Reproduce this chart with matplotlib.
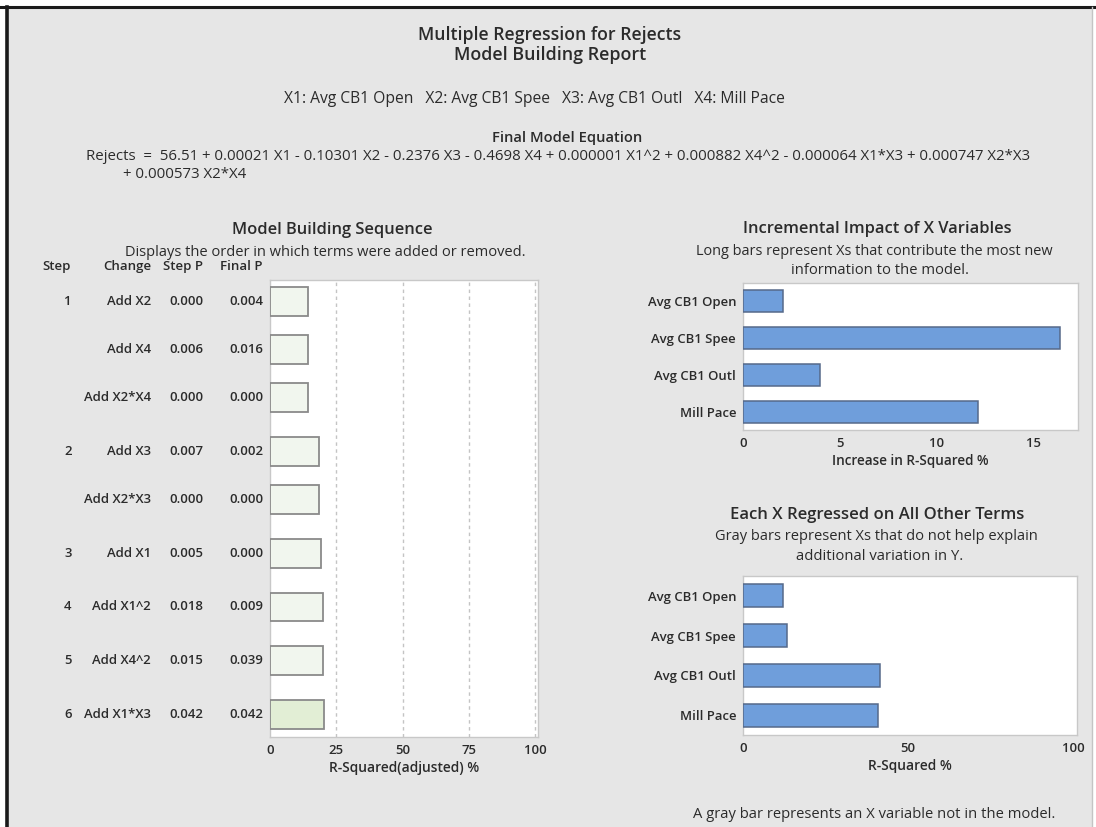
import matplotlib
matplotlib.use("Agg")
import matplotlib.pyplot as plt
import matplotlib.transforms as mtransforms
import numpy as np

plt.rcParams['font.family'] = ['Open Sans', 'DejaVu Sans']

# ---- data ----
seq_steps = [1, 1, 1, 2, 2, 3, 4, 5, 6]
seq_changes = ["Add X2", "Add X4", "Add X2*X4", "Add X3", "Add X2*X3",
               "Add X1", "Add X1^2", "Add X4^2", "Add X1*X3"]
seq_step_p = ["0.000", "0.006", "0.000", "0.007", "0.000",
              "0.005", "0.018", "0.015", "0.042"]
seq_final_p = ["0.004", "0.016", "0.000", "0.002", "0.000",
               "0.000", "0.009", "0.039", "0.042"]
seq_rsq_adj = [14.3, 14.3, 14.2, 18.5, 18.5, 19.1, 19.9, 19.9, 20.5]

x_names = ["Avg CB1 Open", "Avg CB1 Spee", "Avg CB1 Outl", "Mill Pace"]
incr_rsq = [2.05, 16.35, 3.96, 12.13]
other_rsq = [12.1, 13.4, 41.5, 40.8]

seq_ticks = [0, 25, 50, 75, 100]
incr_ticks = [0, 5, 10, 15]
other_ticks = [0, 50, 100]

equation_line1 = ("Rejects  =  56.51 + 0.00021 X1 - 0.10301 X2 - 0.2376 X3 - 0.4698 X4 + 0.000001 X1^2"
                  " + 0.000882 X4^2 - 0.000064 X1*X3 + 0.000747 X2*X3")
equation_line2 = "+ 0.000573 X2*X4"

# ---- figure ----
W, H = 1096, 827
BG = "#e6e6e6"
TXT = "#2b2b2b"
fig = plt.figure(figsize=(W / 100, H / 100), dpi=100, facecolor="white")
renderer = fig.canvas.get_renderer()

# report panel background and frame
fig.patches.append(plt.Rectangle((7 / W, 0), (1092 - 7) / W, 1 - 7 / H, transform=fig.transFigure,
                                 facecolor=BG, edgecolor="none", zorder=-5))
fig.add_artist(plt.Line2D([0, 1], [1 - 7 / H, 1 - 7 / H], transform=fig.transFigure,
                          color="#1a1a1a", lw=2.2))
fig.add_artist(plt.Line2D([7 / W, 7 / W], [0, 1 - 7 / H], transform=fig.transFigure,
                          color="#1a1a1a", lw=2.6))
fig.add_artist(plt.Line2D([1092 / W, 1092 / W], [0, 1 - 7 / H], transform=fig.transFigure,
                          color="#c4c4c4", lw=1.0))


def px(x, y):
    return x / W, 1 - y / H


def fitted_size(s, width, weight="normal", ref=10.0):
    """Font size at which string s spans the given pixel width."""
    t = fig.text(0, 0, s, fontsize=ref, fontweight=weight)
    w = t.get_window_extent(renderer).width
    t.remove()
    return ref * width / w


def ftext(x, y, s, width=None, weight="normal", ha="center", color=TXT, size=None):
    if size is None:
        size = fitted_size(s, width, weight)
    fig.text(*px(x, y), s, fontsize=size, fontweight=weight, ha=ha, va="center", color=color)
    return size


def add_axes_px(left, top, right, bottom):
    return fig.add_axes([left / W, 1 - bottom / H, (right - left) / W, (bottom - top) / H])


SB = "semibold"
ROW_SIZE = fitted_size("Add X2*X4", 67, SB)
TICK_SIZE = fitted_size("Avg CB1 Open", 89, SB)
HEAD_SIZE = fitted_size("Change", 48, SB)

# ---- header ----
ftext(550, 35, "Multiple Regression for Rejects", 262, SB)
ftext(550, 55, "Model Building Report", 192, SB)
ftext(534, 99, "X1: Avg CB1 Open   X2: Avg CB1 Spee   X3: Avg CB1 Outl   X4: Mill Pace", 501)
ftext(567, 138, "Final Model Equation", 150, SB)
eq_size = ftext(86, 156, equation_line1, 941, ha="left")
ftext(123, 174, equation_line2, ha="left", size=eq_size)

# ---- model building sequence ----
ax1 = add_axes_px(270, 280, 538, 737)
ypos = [0.0]
for i in range(1, len(seq_steps)):
    gap = 1.0 if seq_steps[i] == seq_steps[i - 1] else 1.12
    ypos.append(ypos[-1] + gap)
ypos = np.array(ypos)

# the last step (final model) is shaded a little greener
bar_colors = ["#f1f6ee"] * (len(seq_rsq_adj) - 1) + ["#e2eed5"]
ax1.barh(ypos, seq_rsq_adj, height=0.6, left=0, color=bar_colors,
         edgecolor="#8a8a8a", linewidth=1.3, zorder=3)
for t in seq_ticks[1:]:
    ax1.axvline(t, color="#c4c4c4", lw=1.0, ls=(0, (2.5, 2.5)), zorder=1)
ax1.set_xlim(0, 101)
ax1.set_ylim(9.07, -0.45)
ax1.set_yticks([])
ax1.set_xticks(seq_ticks)
ax1.set_xlabel("R-Squared(adjusted) %", fontsize=fitted_size("R-Squared(adjusted) %", 150, SB),
               fontweight=SB, color=TXT, labelpad=3)

rowtf = mtransforms.blended_transform_factory(fig.transFigure, ax1.transData)
prev = None
for y, st, ch, sp, fp in zip(ypos, seq_steps, seq_changes, seq_step_p, seq_final_p):
    if st != prev:
        ax1.text(68 / W, y, str(st), transform=rowtf, ha="center", va="center",
                 fontsize=ROW_SIZE, fontweight=SB, color=TXT)
    prev = st
    for xr, s in ((151, ch), (203, sp), (263, fp)):
        ax1.text(xr / W, y, s, transform=rowtf, ha="right", va="center",
                 fontsize=ROW_SIZE, fontweight=SB, color=TXT)

ftext(332, 230, "Model Building Sequence", 201, SB)
ftext(325, 252, "Displays the order in which terms were added or removed.", 398)
for xr, s, ha in ((57, "Step", "center"), (151, "Change", "right"),
                  (203, "Step P", "right"), (263, "Final P", "right")):
    fig.text(*px(xr, 267), s, fontsize=HEAD_SIZE, fontweight=SB, ha=ha, va="center", color=TXT)

# ---- incremental impact ----
BLUE = "#6f9edb"
BLUE_EDGE = "#56698a"
ax2 = add_axes_px(743, 283, 1078, 430)
yy = np.arange(len(x_names))
ax2.barh(yy, incr_rsq, height=0.6, color=BLUE, edgecolor=BLUE_EDGE, linewidth=1.1, zorder=3)
ax2.set_xlim(0, 17.3)
ax2.set_ylim(3.5, -0.5)
ax2.set_yticks(yy)
ax2.set_yticklabels(x_names)
ax2.set_xticks(incr_ticks)
ax2.set_xlabel("Increase in R-Squared %", fontsize=fitted_size("Increase in R-Squared %", 157, SB),
               fontweight=SB, color=TXT, labelpad=3)
ftext(877, 229, "Incremental Impact of X Variables", 268, SB)
ftext(874, 251, "Long bars represent Xs that contribute the most new", 356)
ftext(880, 271, "information to the model.", 177)

# ---- each X regressed on the others ----
ax3 = add_axes_px(743, 576, 1077, 735)
ax3.barh(yy, other_rsq, height=0.58, color=BLUE, edgecolor=BLUE_EDGE, linewidth=1.1, zorder=3)
ax3.set_xlim(0, 101.2)
ax3.set_ylim(3.5, -0.5)
ax3.set_yticks(yy)
ax3.set_yticklabels(x_names)
ax3.set_xticks(other_ticks)
ax3.set_xlabel("R-Squared %", fontsize=fitted_size("R-Squared %", 84, SB),
               fontweight=SB, color=TXT, labelpad=3)
ftext(877, 515, "Each X Regressed on All Other Terms", 293, SB)
ftext(876, 537, "Gray bars represent Xs that do not help explain", 321)
ftext(880, 557, "additional variation in Y.", 167)
ftext(874, 814, "A gray bar represents an X variable not in the model.", 360)

for ax in (ax1, ax2, ax3):
    ax.set_facecolor("white")
    for s in ax.spines.values():
        s.set_color("#c8c8c8")
        s.set_linewidth(1.0)
    ax.tick_params(axis="both", length=0, labelsize=TICK_SIZE, labelcolor=TXT, pad=5)
    for lab in ax.get_xticklabels() + ax.get_yticklabels():
        lab.set_fontweight(SB)

fig.savefig("out.png", dpi=100, facecolor=fig.get_facecolor())
